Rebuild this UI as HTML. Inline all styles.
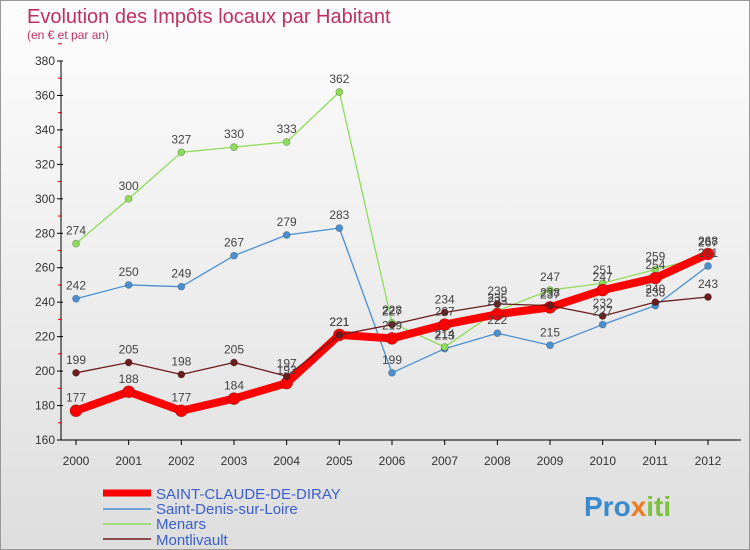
<!DOCTYPE html>
<html><head><meta charset="utf-8"><style>
body{margin:0}
#c{position:relative;width:750px;height:550px;background:linear-gradient(#fdfdfd,#dedede);font-family:"Liberation Sans",sans-serif;overflow:hidden;box-sizing:border-box;border:1px solid #999}
</style></head><body>
<div id="c">
<svg width="750" height="550" id="s" font-family="Liberation Sans, sans-serif">
<text x="26" y="22" font-size="20" fill="#c0305f">Evolution des Impôts locaux par Habitant</text>
<text x="26" y="38" font-size="12" fill="#c0305f">(en € et par an)</text>
<g id="axes"></g><g id="series"></g><g id="labels"></g>
<g>
<line x1="102" y1="492" x2="150" y2="492" stroke="#f00" stroke-width="7"/>
<text x="155" y="498" font-size="15" fill="#3a5fcd">SAINT-CLAUDE-DE-DIRAY</text>
<line x1="102" y1="508" x2="150" y2="508" stroke="#4a90d0" stroke-width="1.5"/>
<text x="155" y="513" font-size="15" fill="#3a5fcd">Saint-Denis-sur-Loire</text>
<line x1="102" y1="523" x2="150" y2="523" stroke="#8fdc5a" stroke-width="1.5"/>
<text x="155" y="528" font-size="15" fill="#3a5fcd">Menars</text>
<line x1="102" y1="538" x2="150" y2="538" stroke="#6b1c1c" stroke-width="1.5"/>
<text x="155" y="544" font-size="15" fill="#3a5fcd">Montlivault</text>
</g>
<text x="583" y="515" font-size="28" font-weight="bold" fill="#3a8ad0">Pro<tspan fill="#f07a20">x</tspan><tspan fill="#7cc040">iti</tspan></text>
</svg></div>
<script>
const years=[2000,2001,2002,2003,2004,2005,2006,2007,2008,2009,2010,2011,2012];
const yTicks=[160,180,200,220,240,260,280,300,320,340,360,380];
const stClaude=[177,188,177,184,193,221,219,227,233,237,247,254,268];
const stDenis=[242,250,249,267,279,283,199,213,222,215,227,238,261];
const menars=[274,300,327,330,333,362,228,214,235,247,251,259,267];
const montlivault=[199,205,198,205,197,221,227,234,239,238,232,240,243];
const NS="http://www.w3.org/2000/svg";
const X=i=>75+i*(707-75)/(years.length-1);
const Y=v=>439-(v-160)*(439-60)/220;
function mk(t,a,p){const e=document.createElementNS(NS,t);for(const k in a)e.setAttribute(k,a[k]);p.appendChild(e);return e;}
const ax=document.getElementById('axes'),se=document.getElementById('series'),lb=document.getElementById('labels');
const yl=mk('line',{x1:60,y1:60,x2:60,y2:439,stroke:'#000'},ax);


mk('line',{x1:60,y1:439,x2:740,y2:439,stroke:'#000'},ax);
yTicks.forEach(v=>{
 mk('line',{x1:56,y1:Y(v),x2:62,y2:Y(v),stroke:'#000'},ax);
 mk('line',{x1:57,y1:Y(v+10),x2:61,y2:Y(v+10),stroke:'#d00'},ax);
 const t=mk('text',{x:54,y:Y(v)+4,'font-size':12,fill:'#333','text-anchor':'end'},ax);
 t.textContent=v;
 
 
});
years.forEach((y,i)=>{
 mk('line',{x1:X(i),y1:439,x2:X(i),y2:444,stroke:'#000'},ax);
 const t=mk('text',{x:X(i),y:464,'font-size':12,fill:'#333','text-anchor':'middle'},ax);
 t.textContent=y;
 
 
});
function series(d,col,w,r,name){
 const p=mk('polyline',{points:d.map((v,i)=>X(i)+','+Y(v)).join(' '),fill:'none',stroke:col,'stroke-width':w,'stroke-linejoin':'round'},se);
 
 
 d.forEach((v,i)=>{
  const c=mk('circle',{cx:X(i),cy:Y(v),r:r,fill:col,stroke:'rgba(0,0,0,0.3)','stroke-width':0.7},se);
  
  
  const t=mk('text',{x:X(i),y:Y(v)-9,'font-size':12,fill:'#444','text-anchor':'middle'},lb);
  t.textContent=v;
  
  
 });
}
series(stDenis,'#4a90d0',1.3,3.5,'saint-denis');
series(menars,'#8fdc5a',1.3,3.5,'menars');
series(stClaude,'#f00',8,6,'saint-claude');
series(montlivault,'#6b1c1c',1.3,3.5,'montlivault');
</script>
</body></html>
